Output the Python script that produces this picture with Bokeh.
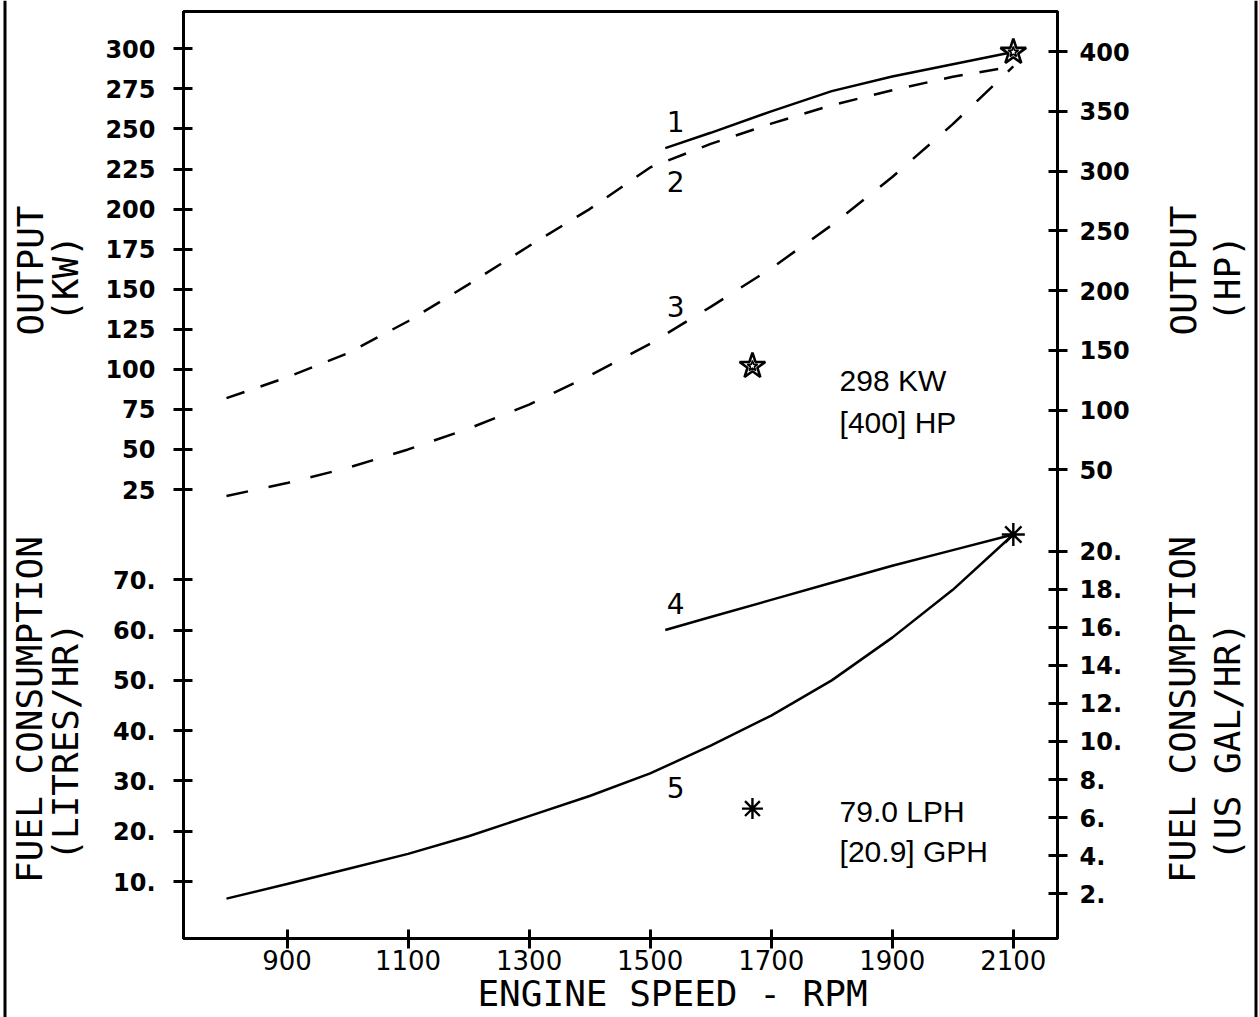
import numpy as np
from bokeh.plotting import figure
from bokeh.models import Range1d, LinearAxis, FixedTicker, Label, BoxAnnotation
from bokeh.core.properties import value
from bokeh.embed import file_html
from bokeh.resources import INLINE

# ---------------- data ----------------
# curve 1: maximum output (kW), solid
rpm_c1 = [1525, 1600, 1700, 1800, 1900, 2000, 2100]
kw_c1 = [238, 247.6, 261, 273.6, 282.7, 290.4, 298]

# curve 2: dashed output curve (kW)
rpm_c2 = [800, 900, 1000, 1100, 1200, 1300, 1400, 1500, 1600, 1700, 1800, 1900, 2000, 2100]
kw_c2 = [82, 95, 110, 130, 153, 177, 200, 226, 240.7, 253.3, 264.8, 274.2, 282.6, 289]

# curve 3: dashed propeller output curve (kW)
rpm_c3 = [800, 900, 1000, 1100, 1200, 1300, 1400, 1500, 1600, 1700, 1800, 1900, 2000, 2100]
kw_c3 = [21, 29, 38.5, 50, 63, 78, 96, 116, 139, 163, 190, 220, 253, 289]

# curve 4: fuel consumption at max output (L/hr), solid
rpm_c4 = [1525, 1600, 1700, 1800, 1900, 2000, 2100]
lph_c4 = [60, 62.6, 66, 69.4, 72.8, 75.9, 79]

# curve 5: propeller fuel consumption (L/hr), solid
rpm_c5 = [800, 900, 1000, 1100, 1200, 1300, 1400, 1500, 1600, 1700, 1800, 1900, 2000, 2100]
lph_c5 = [6.6, 9.5, 12.5, 15.5, 19, 23, 27, 31.5, 37, 43, 50, 58.5, 68, 79]

# rated points and legend markers
rated_rpm = [2100]
rated_kw = [298]
rated_lph = [79]
legend_rpm = [1669]
legend_kw = [102]
legend_lph = [24.5]

# curve number labels
num_rpm = [1542, 1542, 1542]
num_kw = [254.7, 217.2, 139.2]
num_kw_text = ["1", "2", "3"]
num_lph_rpm = [1542, 1542]
num_lph = [65.3, 28.7]
num_lph_text = ["4", "5"]

# annotation texts
note_rpm = [1813, 1813]
note_kw = [93, 67]
note_kw_text = ["298 KW", "[400] HP"]
note_lph = [23.9, 16.0]
note_lph_text = ["79.0 LPH", "[20.9] GPH"]

# tick labels
x_ticks = [900, 1100, 1300, 1500, 1700, 1900, 2100]
kw_ticks = [25, 50, 75, 100, 125, 150, 175, 200, 225, 250, 275, 300]
lph_ticks = [10, 20, 30, 40, 50, 60, 70]
hp_ticks = [50, 100, 150, 200, 250, 300, 350, 400]
gal_ticks = [2, 4, 6, 8, 10, 12, 14, 16, 18, 20]

HP_PER_KW = 1.341
L_PER_GAL = 3.785

# ---------------- geometry ----------------
W, H = 1259, 1017
BOX_L, BOX_R, BOX_T, BOX_B = 183, 1057, 11, 938     # plot box, in pixels
RPM_LO, RPM_HI = 729, 2173                           # rpm at box left / right
KW_LO, KW_HI = -255.2, 323.3                         # kW at box bottom / top
LPH_LO, LPH_HI = -1.33, 183.0                        # L/hr at box bottom / top

sx = (BOX_R - BOX_L) / (RPM_HI - RPM_LO)
sk = (BOX_B - BOX_T) / (KW_HI - KW_LO)
sl = (BOX_B - BOX_T) / (LPH_HI - LPH_LO)

x_range = Range1d(RPM_LO - BOX_L / sx, RPM_HI + (W - BOX_R) / sx)
kw_range = Range1d(KW_LO - (H - BOX_B) / sk, KW_HI + BOX_T / sk)
lph_range = Range1d(LPH_LO - (H - BOX_B) / sl, LPH_HI + BOX_T / sl)


def px_to_rpm(px):
    return x_range.start + px / sx


def py_to_kw(py):
    return kw_range.end - py / sk


def lph_to_kw(v):
    return KW_LO + (v - LPH_LO) / (LPH_HI - LPH_LO) * (KW_HI - KW_LO)


p = figure(width=W, height=H, x_range=x_range, y_range=kw_range,
           output_backend="svg", toolbar_location=None,
           min_border=0, min_border_left=0, min_border_right=0,
           min_border_top=0, min_border_bottom=0,
           background_fill_color="white", border_fill_color="white",
           x_axis_location=None, y_axis_location=None)
p.extra_y_ranges = {"lph": lph_range}
p.grid.visible = False
p.outline_line_color = None

# left axis: kW (top) + L/hr (bottom)
left_pos = [float(v) for v in kw_ticks] + [lph_to_kw(v) for v in lph_ticks]
left_lab = [str(v) for v in kw_ticks] + [f"{v}." for v in lph_ticks]
la = LinearAxis(ticker=FixedTicker(ticks=left_pos), fixed_location=RPM_LO, bounds=(KW_LO, KW_HI))
la.major_label_overrides = dict(zip(left_pos, left_lab))
p.add_layout(la, "left")

# right axis: HP (top) + US gal/hr (bottom)
right_pos = [v / HP_PER_KW for v in hp_ticks] + [lph_to_kw(v * L_PER_GAL) for v in gal_ticks]
right_lab = [str(v) for v in hp_ticks] + [f"{v}." for v in gal_ticks]
ra = LinearAxis(ticker=FixedTicker(ticks=right_pos), fixed_location=RPM_HI, bounds=(KW_LO, KW_HI))
ra.major_label_overrides = dict(zip(right_pos, right_lab))
p.add_layout(ra, "right")

xa = LinearAxis(ticker=FixedTicker(ticks=x_ticks), fixed_location=KW_LO, bounds=(RPM_LO, RPM_HI))
p.add_layout(xa, "below")

for ax in (la, ra):
    ax.major_label_text_font = "DejaVu Sans"
    ax.major_label_text_font_style = "bold"
    ax.major_label_text_font_size = "24px"
    ax.major_label_text_color = "black"
la.major_label_standoff = 18
ra.major_label_standoff = 12

xa.major_label_text_font = "DejaVu Sans"
xa.major_label_text_font_size = "26px"
xa.major_label_text_color = "black"
xa.major_label_standoff = 1

for ax in (la, ra, xa):
    ax.axis_line_width = 3
    ax.axis_line_color = "black"
    ax.major_tick_line_width = 3
    ax.major_tick_line_color = "black"
    ax.major_tick_in = 9
    ax.major_tick_out = 10
    ax.minor_tick_line_color = None

# plot box
p.add_layout(BoxAnnotation(left=RPM_LO, right=RPM_HI, bottom=KW_LO, top=KW_HI,
                           fill_color=None, line_color="black", line_width=3, line_alpha=1.0))

# page side rules
for l, r in ((3, 6), (1254, 1257)):
    p.add_layout(BoxAnnotation(left=px_to_rpm(l), right=px_to_rpm(r),
                               bottom=kw_range.start, top=kw_range.end,
                               fill_color="black", fill_alpha=1.0, line_color=None))

# ---------------- curves ----------------
p.line(rpm_c1, kw_c1, line_color="black", line_width=2.5)
p.line(rpm_c2, kw_c2, line_color="black", line_width=2.5, line_dash="19 17")
p.line(rpm_c3, kw_c3, line_color="black", line_width=2.5, line_dash="22 21")
p.line(rpm_c4, lph_c4, line_color="black", line_width=2.5, y_range_name="lph")
p.line(rpm_c5, lph_c5, line_color="black", line_width=2.5, y_range_name="lph")

# markers
for xs, ys in ((rated_rpm, rated_kw), (legend_rpm, legend_kw)):
    p.scatter(xs, ys, marker="star", size=27, fill_color="white", line_color="black", line_width=2.6)
    p.scatter(xs, ys, marker="star", size=11, fill_color=None, line_color="black", line_width=1.6)
p.scatter(rated_rpm, rated_lph, marker="asterisk", size=23, line_color="black", line_width=2.4,
          y_range_name="lph")
p.scatter(legend_rpm, legend_lph, marker="asterisk", size=21, line_color="black", line_width=2.4,
          y_range_name="lph")

# curve numbers
p.text(num_rpm, num_kw, text=num_kw_text, text_font=value("DejaVu Sans"), text_font_size="28px",
       text_align="center", text_baseline="middle", text_color="black")
p.text(num_lph_rpm, num_lph, text=num_lph_text, text_font=value("DejaVu Sans"), text_font_size="28px",
       text_align="center", text_baseline="middle", text_color="black", y_range_name="lph")

# notes
p.text(note_rpm, note_kw, text=note_kw_text, text_font=value("Liberation Sans"), text_font_size="30px",
       text_align="left", text_baseline="alphabetic", text_color="black")
p.text(note_rpm, note_lph, text=note_lph_text, text_font=value("Liberation Sans"), text_font_size="30px",
       text_align="left", text_baseline="alphabetic", text_color="black", y_range_name="lph")

# ---------------- axis titles ----------------
titles = [
    ("OUTPUT", 29.5, 270, np.pi / 2),
    ("(KW)", 65, 278, np.pi / 2),
    ("FUEL CONSUMPTION", 29, 709, np.pi / 2),
    ("(LITRES/HR)", 65, 741, np.pi / 2),
    ("OUTPUT", 1183, 270, np.pi / 2),
    ("(HP)", 1227, 278, np.pi / 2),
    ("FUEL CONSUMPTION", 1182, 709, np.pi / 2),
    ("(US GAL/HR)", 1227, 741, np.pi / 2),
    ("ENGINE SPEED - RPM", 672, 993, 0.0),
]
for txt, px, py, ang in titles:
    p.add_layout(Label(x=px_to_rpm(px), y=py_to_kw(py), text=txt, angle=ang,
                       text_align="center", text_baseline="middle",
                       text_font="DejaVu Sans Mono", text_font_size="36px", text_color="black"))

open("out.html", "w").write(file_html(p, INLINE))
